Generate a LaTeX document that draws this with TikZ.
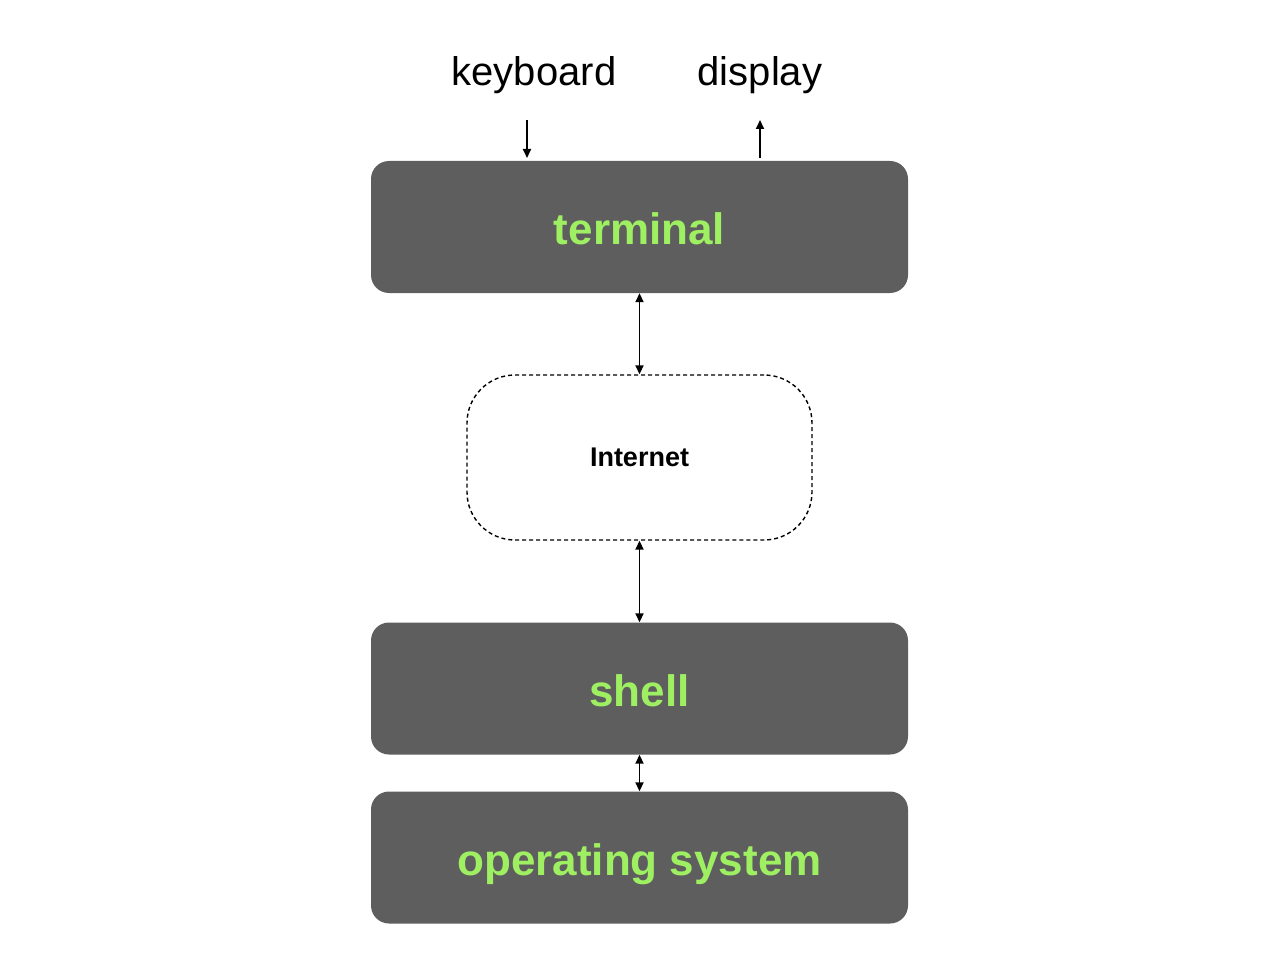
\documentclass[tikz,border=0pt]{standalone}
\usepackage{fontspec}
\setmainfont{Liberation Sans}
\usetikzlibrary{arrows.meta}
\definecolor{boxgray}{RGB}{94,94,94}
\definecolor{boxgreen}{RGB}{158,240,98}
\begin{document}
\begin{tikzpicture}[x=1pt,y=-1pt,
  layerbox/.style={fill=boxgray, rounded corners=18pt, minimum width=537pt, minimum height=132pt, inner sep=0pt,
    text=boxgreen, font=\fontsize{44}{50}\selectfont\bfseries, text height=36pt, text depth=0pt},
  netbox/.style={draw=black, line width=1.4pt, dash pattern=on 4pt off 3pt, rounded corners=48pt,
    minimum width=345pt, minimum height=165pt, inner sep=0pt, font=\fontsize{27}{32}\selectfont\bfseries},
  lbl/.style={font=\fontsize{40}{46}\selectfont, inner sep=0pt},
  conn/.style={line width=1.8pt, -{Triangle[length=9pt,width=8pt]}},
  biconn/.style={line width=1.8pt, {Triangle[length=9pt,width=8pt]}-{Triangle[length=9pt,width=8pt]}}]
\useasboundingbox (0,0) rectangle (1280,960);
\node[layerbox] (term) at (639.5,227) {terminal};
\node[netbox] (net) at (639.5,457.5) {Internet};
\node[layerbox] (shell) at (639.5,688.5) {shell};
\node[layerbox] (os) at (639.5,857.5) {operating system};
\node[lbl] (kb) at (534,75) {keyboard};
\node[lbl] (disp) at (760,75) {display};
\coordinate (kbs) at (527,120);
\coordinate (kbe) at (527,158);
\coordinate (ds) at (760,158);
\coordinate (de) at (760,120);
\draw[conn] (kbs) -- (kbe);
\draw[conn] (ds) -- (de);
\draw[biconn] (term.south) -- (net.north);
\draw[biconn] (net.south) -- (shell.north);
\draw[biconn] (shell.south) -- (os.north);
\end{tikzpicture}
\end{document}
